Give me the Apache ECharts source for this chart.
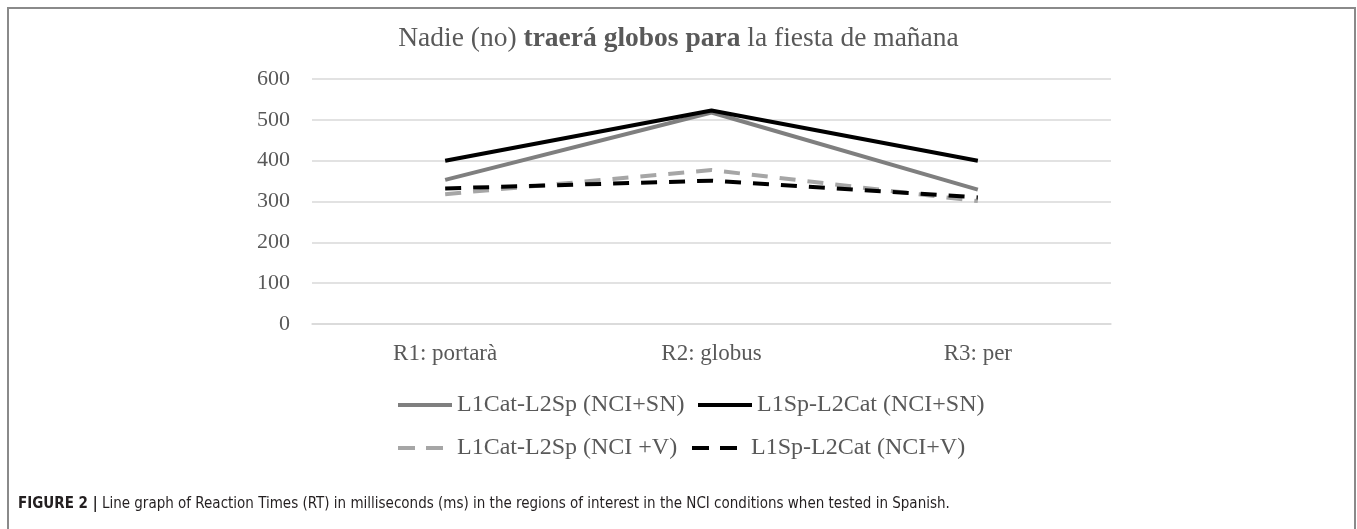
<!DOCTYPE html>
<html>
<head>
<meta charset="utf-8">
<title>Reaction Times NCI</title>
<script src="https://cdn.jsdelivr.net/npm/echarts@6/dist/echarts.min.js"></script>
<style>
    html, body { margin: 0; padding: 0; background: #fff; }
    #chart { width: 1357px; height: 529px; }
</style>
</head>
<body>
<div id="chart"></div>
<script>
    // regiones de interés
    const categories = ['R1: portarà', 'R2: globus', 'R3: per'];
    const yTicks = [0, 100, 200, 300, 400, 500, 600];

    // tiempos de reacción (ms)
    const catSN = [353, 518, 329];
    const spSN = [400, 523, 400];
    const catV = [318, 377, 301];
    const spV = [332, 351, 310];

    const names = [
        'L1Cat-L2Sp (NCI+SN)',
        'L1Sp-L2Cat (NCI+SN)',
        'L1Cat-L2Sp (NCI +V)',
        'L1Sp-L2Cat (NCI+V)'
    ];

    const serif = "'Liberation Serif', 'Times New Roman', serif";
    const narrow = "'DejaVu Sans Condensed', 'Liberation Sans', sans-serif";
    const textGray = '#595959';
    const clear = 'rgba(0,0,0,0)';

    const myChart = echarts.init(document.getElementById('chart'));

    function line(name, data, color, dashed) {
        return {
            name: name,
            type: 'line',
            data: data,
            symbol: 'none',
            silent: true,
            lineStyle: {
                color: color,
                width: 4,
                type: dashed ? [16, 12] : 'solid',
                cap: 'butt'
            },
            itemStyle: { color: color }
        };
    }

    // una leyenda por elemento, para colocarlas como en el original
    function legendItem(name, color, dashed, left, top) {
        return {
            left: left,
            top: top,
            itemWidth: 54,
            itemHeight: 14,
            padding: 0,
            selectedMode: false,
            textStyle: { fontFamily: serif, fontSize: 24, color: textGray },
            data: [{
                name: name,
                // sin marcador, solo la línea
                itemStyle: { color: clear, borderColor: clear, borderWidth: 0 },
                lineStyle: { color: color, width: 4, type: dashed ? [17, 11] : 'solid', cap: 'butt' }
            }]
        };
    }

    const option = {
        animation: false,
        title: {
            left: 'center',
            top: 20,
            text: '{n|Nadie (no) }{b|traerá globos para}{n| la fiesta de mañana}',
            textStyle: {
                fontWeight: 'normal',
                rich: {
                    n: { fontFamily: serif, fontSize: 27.5, color: textGray, fontWeight: 'normal' },
                    b: { fontFamily: serif, fontSize: 27.5, color: textGray, fontWeight: 'bold' }
                }
            }
        },
        grid: {
            left: 312,
            right: 246,
            top: 79,
            bottom: 205
        },
        legend: [
            legendItem(names[0], '#7f7f7f', false, 396, 393),
            legendItem(names[1], '#000000', false, 696, 393),
            legendItem(names[2], '#a6a6a6', true, 396, 436),
            legendItem(names[3], '#000000', true, 690, 436)
        ],
        xAxis: {
            type: 'category',
            data: categories,
            boundaryGap: true,
            axisLine: { lineStyle: { color: '#d9d9d9', width: 1.5 } },
            axisTick: { show: false },
            axisLabel: { fontFamily: serif, fontSize: 23, color: textGray, margin: 18 }
        },
        yAxis: {
            type: 'value',
            min: yTicks[0],
            max: yTicks[yTicks.length - 1],
            interval: 100,
            axisLine: { show: false },
            axisTick: { show: false },
            axisLabel: { fontFamily: serif, fontSize: 22, color: textGray, margin: 22 },
            splitLine: { lineStyle: { color: '#d9d9d9', width: 1.5 } }
        },
        series: [
            line(names[0], catSN, '#7f7f7f', false),
            line(names[1], spSN, '#000000', false),
            line(names[2], catV, '#a6a6a6', true),
            line(names[3], spV, '#000000', true)
        ],
        graphic: [
            {
                type: 'rect',
                silent: true,
                shape: { x: 8, y: 8, width: 1347, height: 530 },
                style: { fill: 'none', stroke: '#8a8a8a', lineWidth: 2 }
            },
            {
                type: 'text',
                left: 18,
                top: 497,
                silent: true,
                style: {
                    text: '{b|FIGURE 2 |}{n| Line graph of Reaction Times (RT) in milliseconds (ms) in the regions of interest in the NCI conditions when tested in Spanish.}',
                    rich: {
                        b: { fontFamily: narrow, fontSize: 15, fontWeight: 'bold', fill: '#231f20' },
                        n: { fontFamily: narrow, fontSize: 15, fill: '#231f20' }
                    }
                }
            }
        ]
    };

    myChart.setOption(option);
    window.onresize = () => {
        myChart.resize();
    };
</script>
</body>
</html>
